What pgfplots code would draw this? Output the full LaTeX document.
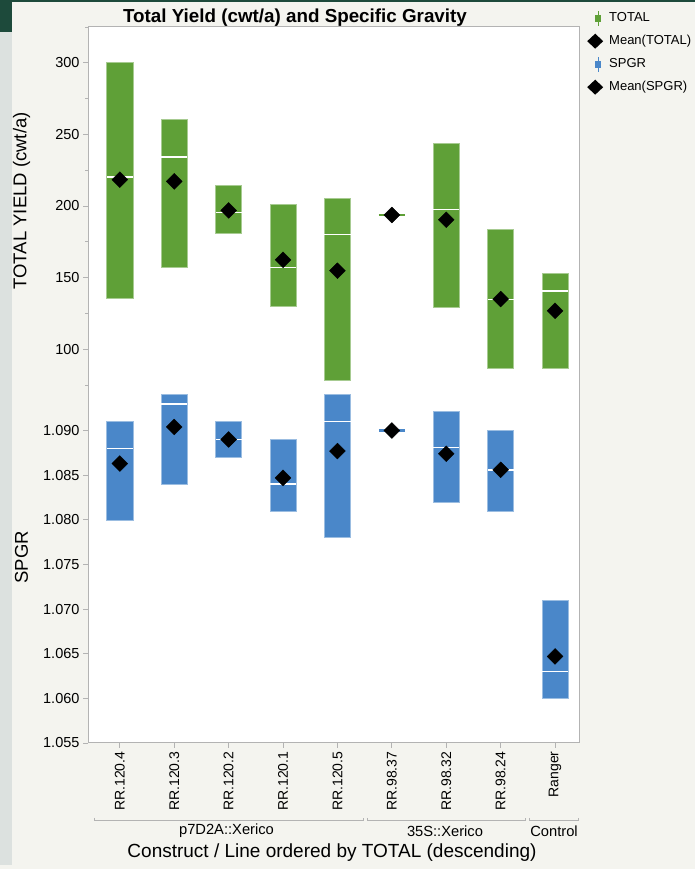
\documentclass[border=0pt]{standalone}
\usepackage{pgfplots}
\usepackage{pgfplotstable}
\pgfplotsset{compat=1.18}
\usepgfplotslibrary{statistics}
\usepackage{fontspec}
\setmainfont{Liberation Sans}
\definecolor{tgreen}{HTML}{5FA037}
\definecolor{tblue}{HTML}{4A87C9}
\definecolor{bggray}{HTML}{F4F4EF}
\definecolor{framegray}{HTML}{B3B3B3}
\definecolor{darkgreen}{HTML}{1D4A3B}
\definecolor{stripgray}{HTML}{DCE1DF}

% TOTAL yield (cwt/a): range min..max, median, mean
\pgfplotstableread{
pos min   med   max   mean
1   135.7 220.3 300.0 218.4
2   157.5 234.0 260.8 217.2
3   180.8 195.5 214.7 196.9
4   129.8 157.0 201.4 162.4
5   78.5  180.1 205.6 154.8
6   193.1 193.7 194.3 193.7
7   129.6 197.6 243.6 190.4
8   86.7  134.7 183.4 135.0
9   86.7  140.6 153.1 126.8
}\totaltable

% SPGR
\pgfplotstableread{
pos min    med    max    mean
1   1.0800 1.0880 1.0910 1.0863
2   1.0840 1.0930 1.0941 1.0904
3   1.0870 1.0890 1.0910 1.0890
4   1.0810 1.0840 1.0890 1.0847
5   1.0780 1.0910 1.0941 1.0877
6   1.08996 1.0900 1.09004 1.0900
7   1.0820 1.0881 1.0921 1.0874
8   1.0810 1.0856 1.0900 1.0856
9   1.0600 1.0630 1.0710 1.0647
}\spgrtable

\pgfplotsset{
  panel/.style={
    scale only axis, width=491pt, height=358pt,
    xmin=0.415, xmax=9.44,
    axis line style={draw=none},
    axis background/.style={fill=white},
    clip=false,
    tick align=outside, major tick length=5pt, minor tick length=3pt,
    tick style={framegray, line width=0.8pt},
    ytick pos=left,
    yticklabel style={font=\fontsize{14.5}{17}\selectfont},
    /pgf/number format/assume math mode=true,
    boxplot/draw direction=y,
    boxplot/box extend=0.48,
    boxplot/whisker extend=0,
    boxplot/every whisker/.style={draw=none},
  },
  gbox/.style={forget plot, solid, tgreen,
    boxplot/every box/.style={fill=tgreen, draw=tgreen!55!white, line width=0.6pt},
    boxplot/every median/.style={draw=white, line width=1.7pt}},
  gline/.style={forget plot, solid, tgreen,
    boxplot/every box/.style={fill=tgreen, draw=none},
    boxplot/every median/.style={draw=tgreen, line width=2.6pt}},
  bbox/.style={forget plot, solid, tblue,
    boxplot/every box/.style={fill=tblue, draw=tblue!55!white, line width=0.6pt},
    boxplot/every median/.style={draw=white, line width=1.7pt}},
  bline/.style={forget plot, solid, tblue,
    boxplot/every box/.style={fill=tblue, draw=none},
    boxplot/every median/.style={draw=tblue, line width=2.6pt}},
}

% one range bar (min..max, white median) from row #2 of table #1, style #3
\newcommand\boxrow[3]{%
  \pgfplotstablegetelem{#2}{pos}\of#1\let\vpos\pgfplotsretval
  \pgfplotstablegetelem{#2}{min}\of#1\let\vmin\pgfplotsretval
  \pgfplotstablegetelem{#2}{med}\of#1\let\vmed\pgfplotsretval
  \pgfplotstablegetelem{#2}{max}\of#1\let\vmax\pgfplotsretval
  \edef\temp{\noexpand\addplot[#3, boxplot prepared={draw position=\vpos,
    lower whisker=\vmin, lower quartile=\vmin, median=\vmed,
    upper quartile=\vmax, upper whisker=\vmax}] coordinates {};}%
  \temp}

\begin{document}
\begin{tikzpicture}
\useasboundingbox (0pt,0pt) rectangle (695pt,869pt);
\fill[bggray] (0pt,0pt) rectangle (695pt,869pt);
\fill[stripgray] (0pt,4pt) rectangle (11.5pt,837pt);
\fill[darkgreen] (0pt,837pt) rectangle (11.5pt,869pt);
\fill[darkgreen] (0pt,867pt) rectangle (695pt,869pt);

% ---------- TOTAL panel ----------
\begin{axis}[panel, at={(88pt,484pt)}, anchor=south west,
  ymin=75, ymax=325,
  ytick={100,150,200,250,300},
  minor ytick={75,125,175,225,275,325},
  xtick=\empty,
  legend cell align=left,
  legend style={at={(1.0163,1.0475)}, anchor=north west, draw=none, fill=none,
    inner sep=0pt, row sep=7pt,
    font=\fontsize{13}{15}\selectfont,
    nodes={inner sep=1.5pt, text height=9.5pt, text depth=2.5pt},
    /tikz/every odd column/.append style={column sep=4.5pt}},
]
\boxrow{\totaltable}{0}{gbox}
\boxrow{\totaltable}{1}{gbox}
\boxrow{\totaltable}{2}{gbox}
\boxrow{\totaltable}{3}{gbox}
\boxrow{\totaltable}{4}{gbox}
\boxrow{\totaltable}{5}{gline}
\boxrow{\totaltable}{6}{gbox}
\boxrow{\totaltable}{7}{gbox}
\boxrow{\totaltable}{8}{gbox}
\addplot[forget plot, only marks, mark=square*, mark size=5.6pt,
  mark options={rotate=45, fill=black, draw=black}]
  table[x=pos, y=mean] {\totaltable};
\draw[framegray, line width=1pt] (rel axis cs:0,0) -- (rel axis cs:0,1) -- (rel axis cs:1,1) -- (rel axis cs:1,0);

\addlegendimage{legend image code/.code={
  \path[draw=none, fill=none] (0pt,-8pt) rectangle (16pt,8pt);
  \draw[tgreen, line width=0.8pt] (11pt,-7.6pt) -- (11pt,7.6pt);
  \fill[tgreen, draw=none] (8pt,-3.5pt) rectangle (14pt,3.5pt);}}
\addlegendentry{TOTAL}
\addlegendimage{legend image code/.code={
  \path[draw=none, fill=none] (0pt,-8pt) rectangle (16pt,8pt);
  \fill[black, draw=none] (8pt,-7.5pt) -- (16pt,0pt) -- (8pt,7.5pt) -- (0pt,0pt) -- cycle;}}
\addlegendentry{Mean(TOTAL)}
\addlegendimage{legend image code/.code={
  \path[draw=none, fill=none] (0pt,-8pt) rectangle (16pt,8pt);
  \draw[tblue, line width=0.8pt] (11pt,-7.6pt) -- (11pt,7.6pt);
  \fill[tblue, draw=none] (8pt,-3.5pt) rectangle (14pt,3.5pt);}}
\addlegendentry{SPGR}
\addlegendimage{legend image code/.code={
  \path[draw=none, fill=none] (0pt,-8pt) rectangle (16pt,8pt);
  \fill[black, draw=none] (8pt,-7.5pt) -- (16pt,0pt) -- (8pt,7.5pt) -- (0pt,0pt) -- cycle;}}
\addlegendentry{Mean(SPGR)}
\end{axis}

% ---------- SPGR panel ----------
\begin{axis}[panel, at={(88pt,126pt)}, anchor=south west,
  ymin=1.055, ymax=1.0951,
  ytick={1.055,1.06,1.065,1.07,1.075,1.08,1.085,1.09},
  yticklabel style={/pgf/number format/.cd, fixed, fixed zerofill, precision=3},
  xtick={1,2,3,4,5,6,7,8,9},
  xticklabels={RR.120.4,RR.120.3,RR.120.2,RR.120.1,RR.120.5,RR.98.37,RR.98.32,RR.98.24,Ranger},
  xtick pos=bottom,
  xticklabel style={rotate=90, anchor=east, font=\fontsize{14}{16}\selectfont},
]
\boxrow{\spgrtable}{0}{bbox}
\boxrow{\spgrtable}{1}{bbox}
\boxrow{\spgrtable}{2}{bbox}
\boxrow{\spgrtable}{3}{bbox}
\boxrow{\spgrtable}{4}{bbox}
\boxrow{\spgrtable}{5}{bline}
\boxrow{\spgrtable}{6}{bbox}
\boxrow{\spgrtable}{7}{bbox}
\boxrow{\spgrtable}{8}{bbox}
\addplot[forget plot, only marks, mark=square*, mark size=5.6pt,
  mark options={rotate=45, fill=black, draw=black}]
  table[x=pos, y=mean] {\spgrtable};
\draw[framegray, line width=1pt] (rel axis cs:0,1) -- (rel axis cs:0,0) -- (rel axis cs:1,0) -- (rel axis cs:1,1);
\end{axis}

% ---------- titles and group labels ----------
\node[font=\bfseries\fontsize{18.8}{21}\selectfont] at (295pt,851.5pt) {Total Yield (cwt/a) and Specific Gravity};
\node[rotate=90, anchor=west, font=\fontsize{18.5}{21}\selectfont] at (21.5pt,576pt) {TOTAL YIELD (cwt/a)};
\node[rotate=90, anchor=west, font=\fontsize{18.5}{21}\selectfont] at (21.5pt,282pt) {SPGR};

\draw[framegray, line width=1pt] (94pt,51pt) -- (94pt,48pt) -- (363pt,48pt) -- (363pt,51pt);
\draw[framegray, line width=1pt] (367pt,51pt) -- (367pt,48pt) -- (525pt,48pt) -- (525pt,51pt);
\draw[framegray, line width=1pt] (529pt,51pt) -- (529pt,48pt) -- (578pt,48pt) -- (578pt,51pt);
\node[font=\fontsize{14.7}{17}\selectfont] at (226.5pt,38pt) {p7D2A::Xerico};
\node[font=\fontsize{14.7}{17}\selectfont] at (445pt,38pt) {35S::Xerico};
\node[font=\fontsize{14.7}{17}\selectfont] at (554pt,38pt) {Control};
\node[font=\fontsize{19}{22}\selectfont] at (332pt,16pt) {Construct / Line ordered by TOTAL (descending)};
\end{tikzpicture}
\end{document}
